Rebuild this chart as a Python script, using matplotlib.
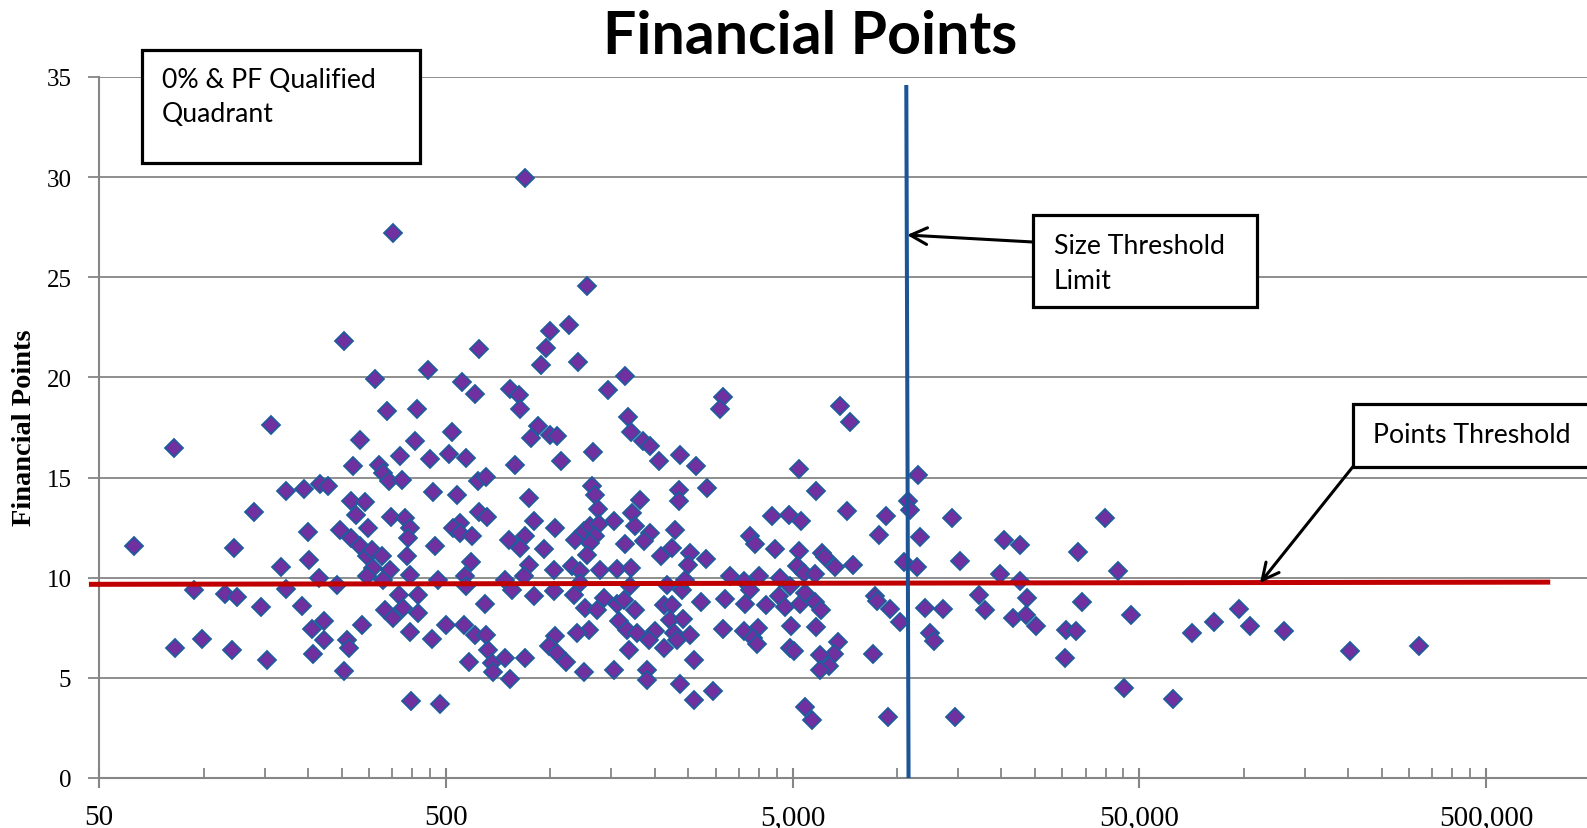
import matplotlib.pyplot as plt
from matplotlib.patches import Rectangle
from matplotlib.ticker import FixedLocator, NullFormatter

# size (x, log scale) and financial points (y) for each company
sizes_a = [62.9, 82, 82.9, 93.7, 99, 115, 122, 125, 121, 140,
           146, 152, 156, 167, 173, 173, 192, 195, 200, 202,
           207, 206, 215, 217, 223, 222, 228, 242, 254, 248,
           254, 259, 263, 266, 270, 275, 282, 293, 286, 298,
           266, 283, 296, 306, 309, 296, 327, 345, 329, 313,
           320, 339, 330, 343, 347, 373, 369, 381, 394, 390,
           387, 394, 365, 334, 353, 377, 416, 416, 394, 396,
           406, 412, 445, 451, 460, 465, 473, 456, 481, 499,
           521, 511, 537, 557, 572, 608, 622, 617, 653, 548,
           524, 549, 594, 623, 658, 591, 567, 572, 648, 563,
           606, 651, 663, 584, 678, 682, 741, 766, 766, 759,
           742, 774, 791, 351, 847, 1276]
points_a = [11.6, 16.5, 6.5, 9.4, 6.95, 9.2, 11.5, 9.05, 6.4, 13.3,
            8.55, 5.9, 17.6, 10.55, 14.35, 9.45, 8.6, 14.45, 12.3, 10.9,
            6.2, 7.45, 10.0, 14.7, 7.85, 6.9, 14.6, 9.65, 21.8, 12.4,
            5.35, 6.9, 6.5, 13.85, 15.6, 13.15, 16.9, 13.8, 7.65, 12.5,
            12.0, 11.6, 11.1, 11.4, 10.5, 10.1, 11.1, 10.4, 9.9, 19.9,
            15.65, 18.3, 15.25, 14.85, 13.05, 14.9, 16.1, 13.0, 12.5, 12.0,
            11.1, 10.15, 9.15, 8.4, 8.0, 8.5, 9.15, 8.25, 7.3, 3.85,
            16.85, 18.4, 20.35, 15.95, 14.3, 11.6, 9.9, 6.95, 3.7, 7.65,
            17.3, 16.2, 14.15, 19.75, 16.0, 19.15, 21.4, 14.85, 15.05, 12.75,
            12.5, 12.25, 12.1, 13.3, 13.05, 10.8, 10.1, 9.6, 8.7, 7.65,
            7.15, 7.15, 6.4, 5.8, 5.75, 5.3, 6.0, 4.95, 19.4, 11.9,
            9.9, 9.4, 15.65, 27.2, 29.95, 24.55]

sizes_b = [1000, 1130, 973, 941, 1200, 1647, 811, 816, 1465, 920,
           880, 996, 1046, 1075, 1325, 1672, 1711, 1852, 1944, 2064,
           2373, 2639, 3151, 3095, 2834, 2347, 2357, 1322, 1343, 1370,
           867, 896, 1034, 848, 820, 957, 867, 1182, 1249, 1305,
           1380, 1349, 1305, 1277, 1524, 1647, 1722, 1820, 1760, 1944,
           1860, 2295, 2246, 2092, 2536, 2491, 2820, 1156, 1216, 1023,
           838, 1389, 1559, 1711, 3308, 896, 1023, 1168, 1222, 1263,
           1365, 1426, 1559, 1629, 1703, 1760, 1576, 1666, 1780, 1684,
           1291, 1195, 1034, 990, 1046, 1113, 1249, 848, 1524, 1902,
           1902, 2124, 2010, 1923, 2124, 2246, 2400, 2221, 2416, 2270,
           2322, 2524, 2592, 2728, 3200, 3151, 2362, 2604, 2941, 2173,
           2453]
points_b = [22.3, 22.6, 21.45, 20.6, 20.75, 20.05, 19.1, 18.4, 19.35, 17.55,
            17.0, 17.15, 17.1, 15.85, 16.3, 18.0, 17.3, 16.85, 16.6, 15.85,
            16.15, 15.6, 19.0, 18.4, 14.5, 14.4, 13.85, 14.6, 14.15, 13.45,
            14.0, 12.85, 12.5, 12.1, 11.5, 11.45, 10.65, 11.9, 12.35, 12.6,
            12.7, 12.1, 11.75, 11.15, 12.85, 11.7, 13.25, 13.9, 12.6, 12.25,
            11.85, 12.4, 11.5, 11.1, 11.25, 10.65, 10.95, 10.6, 10.35, 10.4,
            10.1, 10.4, 10.45, 10.5, 10.1, 9.1, 9.35, 9.15, 9.75, 8.5,
            8.4, 9.0, 8.7, 8.9, 9.6, 8.4, 7.85, 7.4, 7.25, 6.4,
            7.4, 7.25, 7.1, 6.6, 6.25, 5.8, 5.3, 6.0, 5.4, 5.4,
            4.9, 6.5, 7.35, 6.9, 8.65, 8.65, 9.4, 7.9, 7.95, 7.25,
            6.9, 7.15, 5.9, 8.8, 8.95, 7.45, 4.7, 3.9, 4.35, 9.65,
            9.9]

sizes_c = [6836, 7338, 5205, 5822, 7180, 4363, 4872, 5300, 9322, 8857,
           10769, 10937, 11478, 11686, 3776, 3886, 4460, 5228, 6082, 6216,
           6612, 7451, 5150, 5383, 5818, 10460, 11433, 3614, 3992, 3759,
           4611, 4928, 3654, 4202, 4559, 4767, 5238, 5443, 5818, 6054,
           8666, 8764, 9573, 10185, 12078, 3614, 3965, 3845, 3949, 4960,
           5857, 4928, 5037, 6745, 6568, 6014, 6354, 5986, 8535, 12488,
           12823, 5419, 5691, 9428]
points_c = [18.55, 17.75, 15.45, 14.35, 13.35, 13.1, 13.15, 12.85, 13.1, 12.15,
            13.85, 13.4, 15.15, 12.05, 12.1, 11.7, 11.45, 11.35, 11.25, 11.05,
            10.55, 10.65, 10.6, 10.25, 10.2, 10.8, 10.55, 9.85, 10.1, 9.4,
            10.0, 9.6, 8.7, 8.65, 9.1, 8.55, 8.7, 9.25, 8.8, 8.4,
            9.1, 8.85, 8.45, 7.8, 8.5, 7.35, 7.5, 7.0, 6.7, 7.6,
            7.55, 6.5, 6.35, 6.8, 6.2, 6.15, 5.6, 5.4, 6.2, 7.25,
            6.85, 3.55, 2.9, 3.05]

sizes_d = [13550, 14450, 15170, 14740, 17210, 17990, 19870, 20410, 22700, 22700,
           23700, 21630, 23630, 25240, 33310, 34200, 30750, 32930, 30550, 39840,
           43430, 47440, 45200, 62420, 70990, 82330, 96740, 104100, 130500, 202300,
           321300]
points_d = [8.45, 13.0, 10.85, 3.05, 9.15, 8.4, 10.2, 11.9, 11.65, 9.85,
            9.0, 8.0, 8.15, 7.6, 11.3, 8.8, 7.4, 7.35, 6.0, 13.0,
            10.35, 8.15, 4.5, 3.95, 7.25, 7.8, 8.45, 7.6, 7.35, 6.35,
            6.6]

# threshold lines (hand drawn on the original, so slightly off straight)
size_line_x = [10640, 10800]
size_line_y = [34.6, 0]
points_line_x = [46.7, 766000]
points_line_y = [9.67, 9.78]

x_major = [50, 500, 5000, 50000, 500000]
x_labels = ['50', '500', '5,000', '50,000', '500,000']
y_ticks = [0, 5, 10, 15, 20, 25, 30, 35]

W, H = 1587, 829
fig = plt.figure(figsize=(W / 100, H / 100), dpi=100)
fig.patch.set_facecolor('white')

ax = fig.add_axes([99.2 / W, (H - 779) / H, (W - 99.2) / W, 701 / H])
ax.set_xscale('log')
ax.set_xlim(50, 978000)
ax.set_ylim(0, 35)

grey = '#868686'
ax.yaxis.grid(True, color=grey, lw=1.3, zorder=0)
ax.set_axisbelow(True)
for s in ['top', 'right']:
    ax.spines[s].set_visible(False)
for s in ['left', 'bottom']:
    ax.spines[s].set_color(grey)
    ax.spines[s].set_linewidth(1.5)

ax.xaxis.set_major_locator(FixedLocator(x_major))
ax.set_xticklabels(x_labels)
minors = [50 * m * 10 ** k for k in range(5) for m in range(2, 10)]
ax.xaxis.set_minor_locator(FixedLocator(minors))
ax.xaxis.set_minor_formatter(NullFormatter())
ax.set_yticks(y_ticks)

serif = 'Liberation Serif'
ax.tick_params(axis='x', which='major', direction='inout', length=14, width=1.5,
               color=grey, pad=12, labelsize=21)
ax.tick_params(axis='x', which='minor', direction='in', length=7, width=1.3, color=grey)
ax.tick_params(axis='y', direction='out', length=8, width=1.3, color=grey,
               pad=12, labelsize=18)
for lab in ax.get_xticklabels() + ax.get_yticklabels():
    lab.set_family(serif)

# scatter of companies
for xs, ys in [(sizes_a, points_a), (sizes_b, points_b), (sizes_c, points_c), (sizes_d, points_d)]:
    ax.plot(xs, ys, 'D', ms=8.8, mfc='#7030A0', mec='#1F5C9E', mew=1.3, ls='none', zorder=3)

ax.plot(points_line_x, points_line_y, color='#C00000', lw=3.6, zorder=4, clip_on=False,
        solid_capstyle='butt')
ax.plot(size_line_x, size_line_y, color='#1B5597', lw=2.9, zorder=5, solid_capstyle='butt')

# titles
fig.text(810 / W, 1 - 53.6 / H, 'Financial Points', ha='center', va='baseline',
         fontsize=42.5, fontweight='bold', family='Lato')
fig.text(25 / W, 1 - 428 / H, 'Financial Points', ha='center', va='center', rotation=90,
         fontsize=20.5, fontweight='bold', family=serif)


# call-out boxes, positions given in image pixels from the top-left
def box(x0, y0, x1, y1):
    fig.add_artist(Rectangle((x0 / W, 1 - y1 / H), (x1 - x0) / W, (y1 - y0) / H,
                             transform=fig.transFigure, facecolor='white',
                             edgecolor='black', lw=2.3, zorder=6))


def label(x, y, s):
    fig.text(x / W, 1 - y / H, s, ha='left', va='baseline', fontsize=19.2,
             family='Lato', zorder=7)


def arrow(x0, y0, x1, y1):
    ax.annotate('', xy=(x1, H - y1), xytext=(x0, H - y0),
                xycoords='figure pixels', textcoords='figure pixels',
                arrowprops=dict(arrowstyle='->', lw=2.2, color='black',
                                mutation_scale=30, shrinkA=0, shrinkB=0),
                zorder=7)


box(141.7, 50.6, 420, 164)
label(162, 88, '0% & PF Qualified')
label(162, 122.5, 'Quadrant')

box(1033, 215.6, 1257, 307.7)
label(1053.5, 254, 'Size Threshold')
label(1053.5, 289, 'Limit')
arrow(1033, 243, 907, 236)

box(1353, 405, 1620, 467.6)
label(1373, 443, 'Points Threshold')
arrow(1353, 467.6, 1260, 584)

fig.savefig('out.png', dpi=100)
